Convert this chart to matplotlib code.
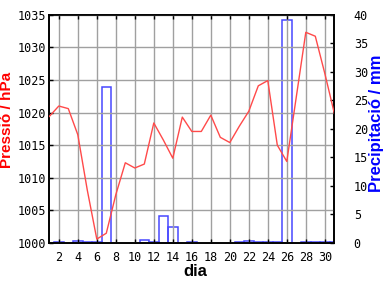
import matplotlib
matplotlib.use("Agg")
import matplotlib.pyplot as plt
import numpy as np

days = list(range(1, 32))
pressure = [1019.4, 1021.0, 1020.6, 1016.6, 1008.1, 1000.6, 1001.5, 1007.4, 1012.3, 1011.5,
            1012.1, 1018.4, 1015.8, 1013.0, 1019.3, 1017.1, 1017.1, 1019.6, 1016.2, 1015.4,
            1017.9, 1020.2, 1024.1, 1024.9, 1015.0, 1012.5, 1022.4, 1032.3, 1031.7, 1026.0,
            1019.9]
precip = [0.0, 0.2, 0.0, 0.4, 0.2, 0.2, 27.3, 0.0, 0.0, 0.0,
          0.5, 0.2, 4.7, 2.8, 0.0, 0.2, 0.0, 0.0, 0.0, 0.0,
          0.2, 0.4, 0.2, 0.2, 0.2, 39.1, 0.0, 0.2, 0.2, 0.2,
          0.2]
xticks = list(range(2, 31, 2))
p_ticks = [1000, 1005, 1010, 1015, 1020, 1025, 1030, 1035]
r_ticks = [0, 5, 10, 15, 20, 25, 30, 35, 40]

W, H = 384, 288
fig = plt.figure(figsize=(W / 100, H / 100), dpi=100)
ax = fig.add_axes([49.3 / W, 1 - 243 / H, (334.3 - 49.3) / W, (243 - 14.7) / H])
ax2 = ax.twinx()

mono = "DejaVu Sans Mono"
grid_c = "#a0a0a0"

ax.set_xlim(1, 31)
ax.set_ylim(1000, 1035)
ax2.set_ylim(0, 40)

# grid
ax.set_xticks(xticks)
ax.set_yticks(p_ticks)
ax.grid(True, color=grid_c, linewidth=1.0)
ax.set_axisbelow(True)

# precipitation boxes
for d, v in zip(days, precip):
    if v > 0:
        ax2.bar(d, v, width=1.0, fill=False, edgecolor="#4848ff", linewidth=1.1, clip_on=True)

ax.plot(days, pressure, color="#ff4a4a", linewidth=1.0, zorder=5)
ax.set_zorder(ax2.get_zorder() + 1)
ax.patch.set_visible(False)

ax.set_xticklabels([str(t) for t in xticks], fontfamily=mono, fontsize=8.5)
ax.set_yticklabels([str(t) for t in p_ticks], fontfamily=mono, fontsize=8.5)
ax2.set_yticks(r_ticks)
ax2.set_yticklabels([str(t) for t in r_ticks], fontfamily=mono, fontsize=8.5)

ax.tick_params(axis="x", direction="in", length=3, width=1, color="black", pad=6, top=True)
ax.tick_params(axis="y", direction="in", length=3, width=1, color="black", pad=2)
ax2.tick_params(axis="y", direction="in", length=3, width=1, color="black", pad=14)

for a in (ax, ax2):
    for s in a.spines.values():
        s.set_color("black")
        s.set_linewidth(1.2)

fig.text(7 / W, 1 - 120 / H, "Pressió / hPa", color="red", rotation=90,
         ha="center", va="center", fontsize=11, fontweight="bold", family="Liberation Sans")
fig.text(376 / W, 1 - 123 / H, "Precipitació / mm", color="blue", rotation=90,
         ha="center", va="center", fontsize=12, fontweight="bold", family="Liberation Sans")
fig.text(195 / W, 1 - 272 / H, "dia", color="black", ha="center", va="center",
         fontsize=12, fontweight="bold", family="Liberation Sans")

fig.savefig("out.png", dpi=100, facecolor="white")
